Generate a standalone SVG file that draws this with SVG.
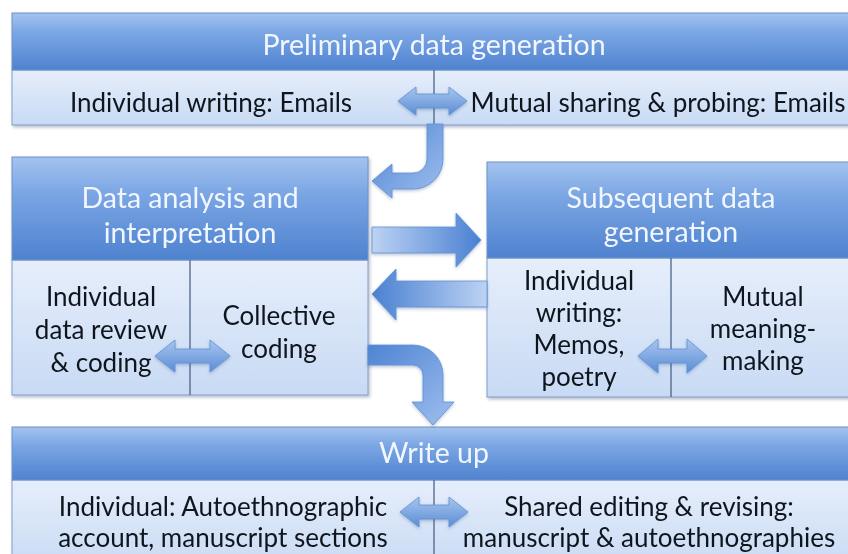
<svg xmlns="http://www.w3.org/2000/svg" width="848" height="554" viewBox="0 0 848 554">
<defs>
<linearGradient id="hdr" x1="0" y1="0" x2="0" y2="1">
<stop offset="0" stop-color="#a4c3ef"/>
<stop offset="0.35" stop-color="#7ba6e4"/>
<stop offset="1" stop-color="#4e82cf"/>
</linearGradient>
<linearGradient id="body" x1="0" y1="0" x2="0" y2="1">
<stop offset="0" stop-color="#e6eefb"/>
<stop offset="1" stop-color="#c8daf4"/>
</linearGradient>
<linearGradient id="arrH" x1="0" y1="0" x2="1" y2="0">
<stop offset="0" stop-color="#bcd3f3"/>
<stop offset="1" stop-color="#4a80d2"/>
</linearGradient>
<linearGradient id="arrHL" x1="1" y1="0" x2="0" y2="0">
<stop offset="0" stop-color="#bcd3f3"/>
<stop offset="1" stop-color="#4a80d2"/>
</linearGradient>
<linearGradient id="arrD" x1="0" y1="0" x2="0" y2="1">
<stop offset="0" stop-color="#a9c6ef"/>
<stop offset="1" stop-color="#5a8dd6"/>
</linearGradient>
<linearGradient id="arrC" x1="0" y1="0" x2="1" y2="1">
<stop offset="0" stop-color="#4e84d3"/>
<stop offset="1" stop-color="#9fbfee"/>
</linearGradient>
<filter id="sh" x="-5%" y="-5%" width="110%" height="115%">
<feDropShadow dx="1.5" dy="2" stdDeviation="1.5" flood-color="#3a4a66" flood-opacity="0.35"/>
</filter>
<filter id="ash" x="-10%" y="-10%" width="120%" height="130%">
<feDropShadow dx="0" dy="1.5" stdDeviation="1.5" flood-color="#2d4f85" flood-opacity="0.35"/>
</filter>
</defs>
<style>
.hdr{fill:url(#hdr);stroke:#6f92c6;stroke-width:1}
.body{fill:url(#body);stroke:#7f9dcb;stroke-width:1}
.div{stroke:#4d6489;stroke-width:1.3}
.ht{font-family:Lato,"Liberation Sans",sans-serif;font-size:28.5px;fill:#f1f6ff;text-anchor:middle}
.bt{font-family:Lato,"Liberation Sans",sans-serif;font-size:26px;fill:#11151f;text-anchor:middle}
.arr{stroke:#5f8fd2;stroke-width:0.8;filter:url(#ash)}
</style>
<rect width="848" height="554" fill="#ffffff"/>

<g id="preliminary" filter="url(#sh)">
<rect class="body" x="12" y="70" width="850" height="55"/>
<rect class="hdr" x="12" y="13" width="850" height="57"/>
<line class="div" x1="434" y1="70" x2="434" y2="125"/>
<text class="ht" x="434" y="55">Preliminary data generation</text>
<text class="bt" x="211" y="112">Individual writing: Emails</text>
<text class="bt" x="658" y="112">Mutual sharing &amp; probing: Emails</text>
</g>

<g id="analysis" filter="url(#sh)">
<rect class="body" x="12" y="260" width="356" height="135"/>
<rect class="hdr" x="12" y="157" width="356" height="103"/>
<line class="div" x1="190" y1="260" x2="190" y2="395"/>
<text class="ht" x="190" y="208">Data analysis and</text>
<text class="ht" x="190" y="243">interpretation</text>
<text class="bt" x="101" y="306">Individual</text>
<text class="bt" x="101" y="339">data review</text>
<text class="bt" x="101" y="372">&amp; coding</text>
<text class="bt" x="279" y="325">Collective</text>
<text class="bt" x="279" y="358">coding</text>
</g>

<g id="subsequent" filter="url(#sh)">
<rect class="body" x="487" y="258" width="370" height="139"/>
<rect class="hdr" x="487" y="162" width="370" height="96"/>
<line class="div" x1="671" y1="258" x2="671" y2="397"/>
<text class="ht" x="671" y="208">Subsequent data</text>
<text class="ht" x="671" y="242">generation</text>
<text class="bt" x="579" y="290">Individual</text>
<text class="bt" x="579" y="322">writing:</text>
<text class="bt" x="579" y="354">Memos,</text>
<text class="bt" x="579" y="386">poetry</text>
<text class="bt" x="763" y="306">Mutual</text>
<text class="bt" x="763" y="338">meaning-</text>
<text class="bt" x="763" y="370">making</text>
</g>

<g id="writeup" filter="url(#sh)">
<rect class="body" x="12" y="480" width="850" height="90"/>
<rect class="hdr" x="12" y="427" width="850" height="53"/>
<line class="div" x1="434" y1="480" x2="434" y2="560"/>
<text class="ht" x="434" y="463">Write up</text>
<text class="bt" x="223" y="516">Individual: Autoethnographic</text>
<text class="bt" x="223" y="547">account, manuscript sections</text>
<text class="bt" x="649" y="516">Shared editing &amp; revising:</text>
<text class="bt" x="649" y="547">manuscript &amp; autoethnographies</text>
</g>

<g id="connectors">
<path class="arr" fill="url(#arrD)" d="M398,101 L416,87 L416,94 L449,94 L449,87 L467,101 L449,115 L449,108 L416,108 L416,115 Z"/>
<path class="arr" fill="url(#arrC)" d="M427,124 L443,124 L443,159 A30,30 0 0 1 413,189 L392,189 L392,198 L372,181 L392,164 L392,173 L413,173 A14,14 0 0 0 427,159 Z"/>
<path class="arr" fill="url(#arrH)" d="M372,227 L456,227 L456,213 L481,240 L456,267 L456,253 L372,253 Z"/>
<path class="arr" fill="url(#arrHL)" d="M487,281 L396,281 L396,269 L372,294 L396,320 L396,307 L487,307 Z"/>
<path class="arr" fill="url(#arrC)" d="M368,345 L413,345 A30,30 0 0 1 443,375 L443,402 L454,402 L433,425 L412,402 L423,402 L423,375 A10,10 0 0 0 413,365 L368,365 Z"/>
<path class="arr" fill="url(#arrD)" d="M155,356 L175,340 L175,349 L210,349 L210,340 L230,356 L210,372 L210,363 L175,363 L175,372 Z"/>
<path class="arr" fill="url(#arrD)" d="M638,356 L658,339 L658,349 L687,349 L687,339 L707,356 L687,373 L687,363 L658,363 L658,373 Z"/>
<path class="arr" fill="url(#arrD)" d="M400,512 L419,497 L419,505 L449,505 L449,497 L468,512 L449,527 L449,519 L419,519 L419,527 Z"/>
</g>
</svg>
